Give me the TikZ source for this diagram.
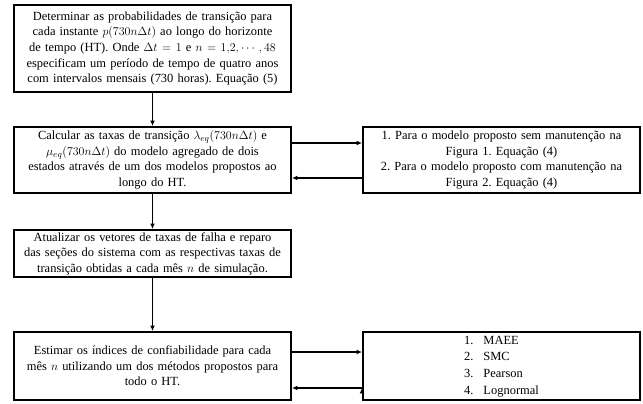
\documentclass[tikz,border=0pt]{standalone}
\usepackage{amsmath, amssymb}
\usepackage{fontspec}
\setmainfont{Liberation Serif}
\usepackage{tikz}
\usetikzlibrary{
  arrows.meta,
  calc,
  positioning
}
\frenchspacing
\tikzset{
  box/.style={
    draw,
    line width=2pt,
    text width=265bp,
    inner xsep=6bp,
    inner ysep=0pt,
    align=center,
    font=\fontsize{12.5}{15.6}\selectfont},
  flow/.style={
    -{Latex[length=5.5pt,width=5pt]},
    line width=1.5pt}
  }
\begin{document}
\begin{tikzpicture}[x=1bp,y=-1bp]
  \useasboundingbox (0,0) rectangle (643,403);
  \node[box, minimum height=87bp] (prob) at (152.5,48.5) {Determinar as probabilidades de transição para\\
    cada instante $p(730n\Delta t)$ ao longo do horizonte\\
    de tempo (HT). Onde $\Delta t = 1$ e $n = 1{,}2,\cdots,48$\\
    especificam um período de tempo de quatro anos\\
    com intervalos mensais (730 horas). Equação (5)};
  \node[box, minimum height=66bp] (taxas) at (152.5,160) {Calcular as taxas de transição $\lambda_{eq}(730n\Delta t)$ e\\
    $\mu_{eq}(730n\Delta t)$ do modelo agregado de dois\\
    estados através de um dos modelos propostos ao\\
    longo do HT.};
  \node[box, minimum height=47bp] (vetor) at (152.5,253.5) {Atualizar os vetores de taxas de falha e reparo\\
    das seções do sistema com as respectivas taxas de\\
    transição obtidas a cada mês $n$ de simulação.};
  \node[box, minimum height=68bp] (indic) at (152.5,366) {Estimar os índices de confiabilidade para cada\\
    mês $n$ utilizando um dos métodos propostos para\\
    todo o HT.};
  \node[box, minimum height=66bp] (model) at (501.5,160) {1. Para o modelo proposto sem manutenção na\\
    Figura 1. Equação (4)\\
    2. Para o modelo proposto com manutenção na\\
    Figura 2. Equação (4)};
  \node[box, minimum height=68bp] (metod) at (501.5,366) {\renewcommand{\arraystretch}{1.08}%
    \begin{tabular}{@{}r@{\hspace{10bp}}l@{}}
      1. & MAEE\\
      2. & SMC\\
      3. & Pearson\\
      4. & Lognormal
    \end{tabular}};
  \draw [flow]
    (prob) edge[] (taxas)
    (taxas) edge[] (vetor)
    (vetor) edge[] (indic)
    ([yshift=17bp]taxas.east) edge[] ([yshift=17bp]model.west)
    ([yshift=-18bp]model.west) edge[] ([yshift=-18bp]taxas.east)
    ([yshift=14bp]indic.east) edge[] ([yshift=14bp]metod.west)
    ([yshift=-22bp]metod.west) edge[] ([yshift=-22bp]indic.east);
\end{tikzpicture}
\end{document}
